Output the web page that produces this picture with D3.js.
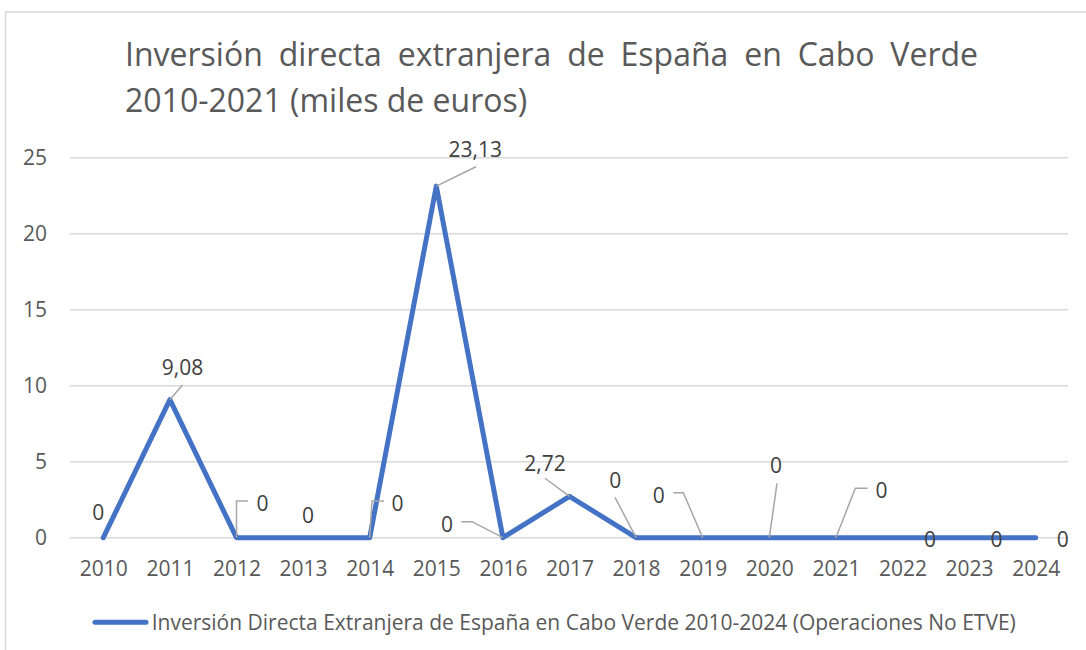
<!DOCTYPE html>
<html>
<head>
<meta charset="utf-8">
<script src="https://cdn.jsdelivr.net/npm/d3@7"></script>
<style>
  body { margin: 0; background: #fff; }
  text { font-family: "Open Sans", Lato, sans-serif; }
</style>
</head>
<body>
<div id="container"></div>
<script>
// data
const years = ["2010", "2011", "2012", "2013", "2014", "2015", "2016", "2017",
    "2018", "2019", "2020", "2021", "2022", "2023", "2024"];
const values = [0, 9.08, 0, 0, 0, 23.13, 0, 2.72, 0, 0, 0, 0, 0, 0, 0];
const labelText = ["0", "9,08", "0", "0", "0", "23,13", "0", "2,72", "0", "0", "0", "0", "0", "0", "0"];
const yTicks = [0, 5, 10, 15, 20, 25];
const titleLines = ["Inversión directa extranjera de España en Cabo Verde", "2010-2021 (miles de euros)"];
const seriesName = "Inversión Directa Extranjera de España en Cabo Verde 2010-2024 (Operaciones No ETVE)";

// hand-placed data labels (offset from the point) and their leader lines
const labelPos = [
    { dx: -5, dy: -25 },
    { dx: 12.6, dy: -32.7, leader: [[12.6, -14.7]] },
    { dx: 26, dy: -34.7, leader: [[0, -36.7], [11.5, -36.7]] },
    { dx: 5, dy: -22 },
    { dx: 27.8, dy: -34.7, leader: [[2.3, -36.7], [14.3, -36.7]] },
    { dx: 39, dy: -36.6, leader: [[39.7, -19.4]] },
    { dx: -56, dy: -13, leader: [[-30.9, -16], [-41.5, -16]] },
    { dx: -24.5, dy: -32.7, leader: [[-24.5, -18.1]] },
    { dx: -20.8, dy: -57.7, leader: [[-21.1, -40.4]] },
    { dx: -44, dy: -42, leader: [[-19.4, -45], [-29.4, -45]] },
    { dx: 6.7, dy: -72, leader: [[7.7, -54.4]] },
    { dx: 45.6, dy: -47.2, leader: [[19.4, -49.4], [31.6, -49.4]] },
    { dx: 27.5, dy: 1.3 },
    { dx: 27.5, dy: 1.3 },
    { dx: 27, dy: 1.3 }
];

function main() {
    const width = 1086, height = 650;
    const svg = d3.select("#container")
        .append("svg")
        .attr("width", width)
        .attr("height", height);

    svg.append("rect")
        .attr("x", 5.5)
        .attr("y", 12)
        .attr("width", 1200)
        .attr("height", 800)
        .attr("fill", "#fff")
        .attr("stroke", "#d9d9d9")
        .attr("stroke-width", 1.5);

    // title, first line justified like the original
    const tLeft = 125, tRight = 978;
    const words = titleLines[0].split(" ");
    const tg = svg.append("g")
        .attr("font-size", 32)
        .attr("fill", "#595959");
    const wordNodes = words.map(w => tg.append("text").attr("y", 66).text(w));
    const widths = wordNodes.map(n => n.node().getComputedTextLength());
    const gap = (tRight - tLeft - d3.sum(widths)) / (words.length - 1);
    let cx = tLeft;
    wordNodes.forEach((n, i) => {
        n.attr("x", cx);
        cx += widths[i] + gap;
    });
    tg.append("text")
        .attr("x", tLeft)
        .attr("y", 111.7)
        .text(titleLines[1]);

    const x = d3.scalePoint()
        .domain(years)
        .range([103.3, 1035.7]);
    const y = d3.scaleLinear()
        .domain([0, 25])
        .range([537.7, 157.7]);

    // gridlines
    svg.append("g")
        .selectAll("line")
        .data(yTicks)
        .join("line")
        .attr("x1", 70)
        .attr("x2", 1068)
        .attr("y1", d => y(d))
        .attr("y2", d => y(d))
        .attr("stroke", "#d9d9d9")
        .attr("stroke-width", 1.5);

    // y axis labels
    const yAxis = svg.append("g")
        .attr("transform", "translate(47,0)")
        .call(d3.axisLeft(y).tickValues(yTicks).tickSize(0).tickPadding(0));
    yAxis.select(".domain").remove();
    yAxis.selectAll("text")
        .attr("font-size", 21)
        .attr("fill", "#595959")
        .attr("font-family", "Open Sans");

    // x axis labels
    const xAxis = svg.append("g")
        .attr("transform", "translate(0,576)")
        .call(d3.axisBottom(x).tickSize(0).tickPadding(0));
    xAxis.select(".domain").remove();
    xAxis.selectAll("text")
        .attr("dy", 0)
        .attr("font-size", 21)
        .attr("fill", "#595959")
        .attr("font-family", "Open Sans");

    // series line
    const line = d3.line()
        .x((d, i) => x(years[i]))
        .y(d => y(d));
    svg.append("path")
        .datum(values)
        .attr("d", line)
        .attr("fill", "none")
        .attr("stroke", "#4472c4")
        .attr("stroke-width", 5)
        .attr("stroke-linejoin", "round")
        .attr("stroke-linecap", "round");

    // leader lines
    svg.append("g")
        .selectAll("path")
        .data(values.map((v, i) => ({ v, i, pos: labelPos[i] })).filter(d => d.pos.leader))
        .join("path")
        .attr("d", d => {
            const px = x(years[d.i]), py = y(d.v);
            return "M" + px + "," + py + d.pos.leader.map(p => "L" + (px + p[0]) + "," + (py + p[1])).join("");
        })
        .attr("fill", "none")
        .attr("stroke", "#a6a6a6")
        .attr("stroke-width", 1.5);

    // data labels
    svg.append("g")
        .selectAll("text")
        .data(values)
        .join("text")
        .attr("x", (d, i) => x(years[i]) + labelPos[i].dx)
        .attr("y", (d, i) => y(d) + labelPos[i].dy)
        .attr("dy", "0.36em")
        .attr("text-anchor", "middle")
        .attr("font-size", 21)
        .attr("fill", "#404040")
        .text((d, i) => labelText[i]);

    // legend
    const lg = svg.append("g");
    lg.append("line")
        .attr("x1", 95)
        .attr("x2", 146)
        .attr("y1", 622.3)
        .attr("y2", 622.3)
        .attr("stroke", "#4472c4")
        .attr("stroke-width", 5)
        .attr("stroke-linecap", "round");
    lg.append("text")
        .attr("x", 151.7)
        .attr("y", 630)
        .attr("font-size", 21)
        .attr("fill", "#595959")
        .text(seriesName);
}
main();
</script>
</body>
</html>
